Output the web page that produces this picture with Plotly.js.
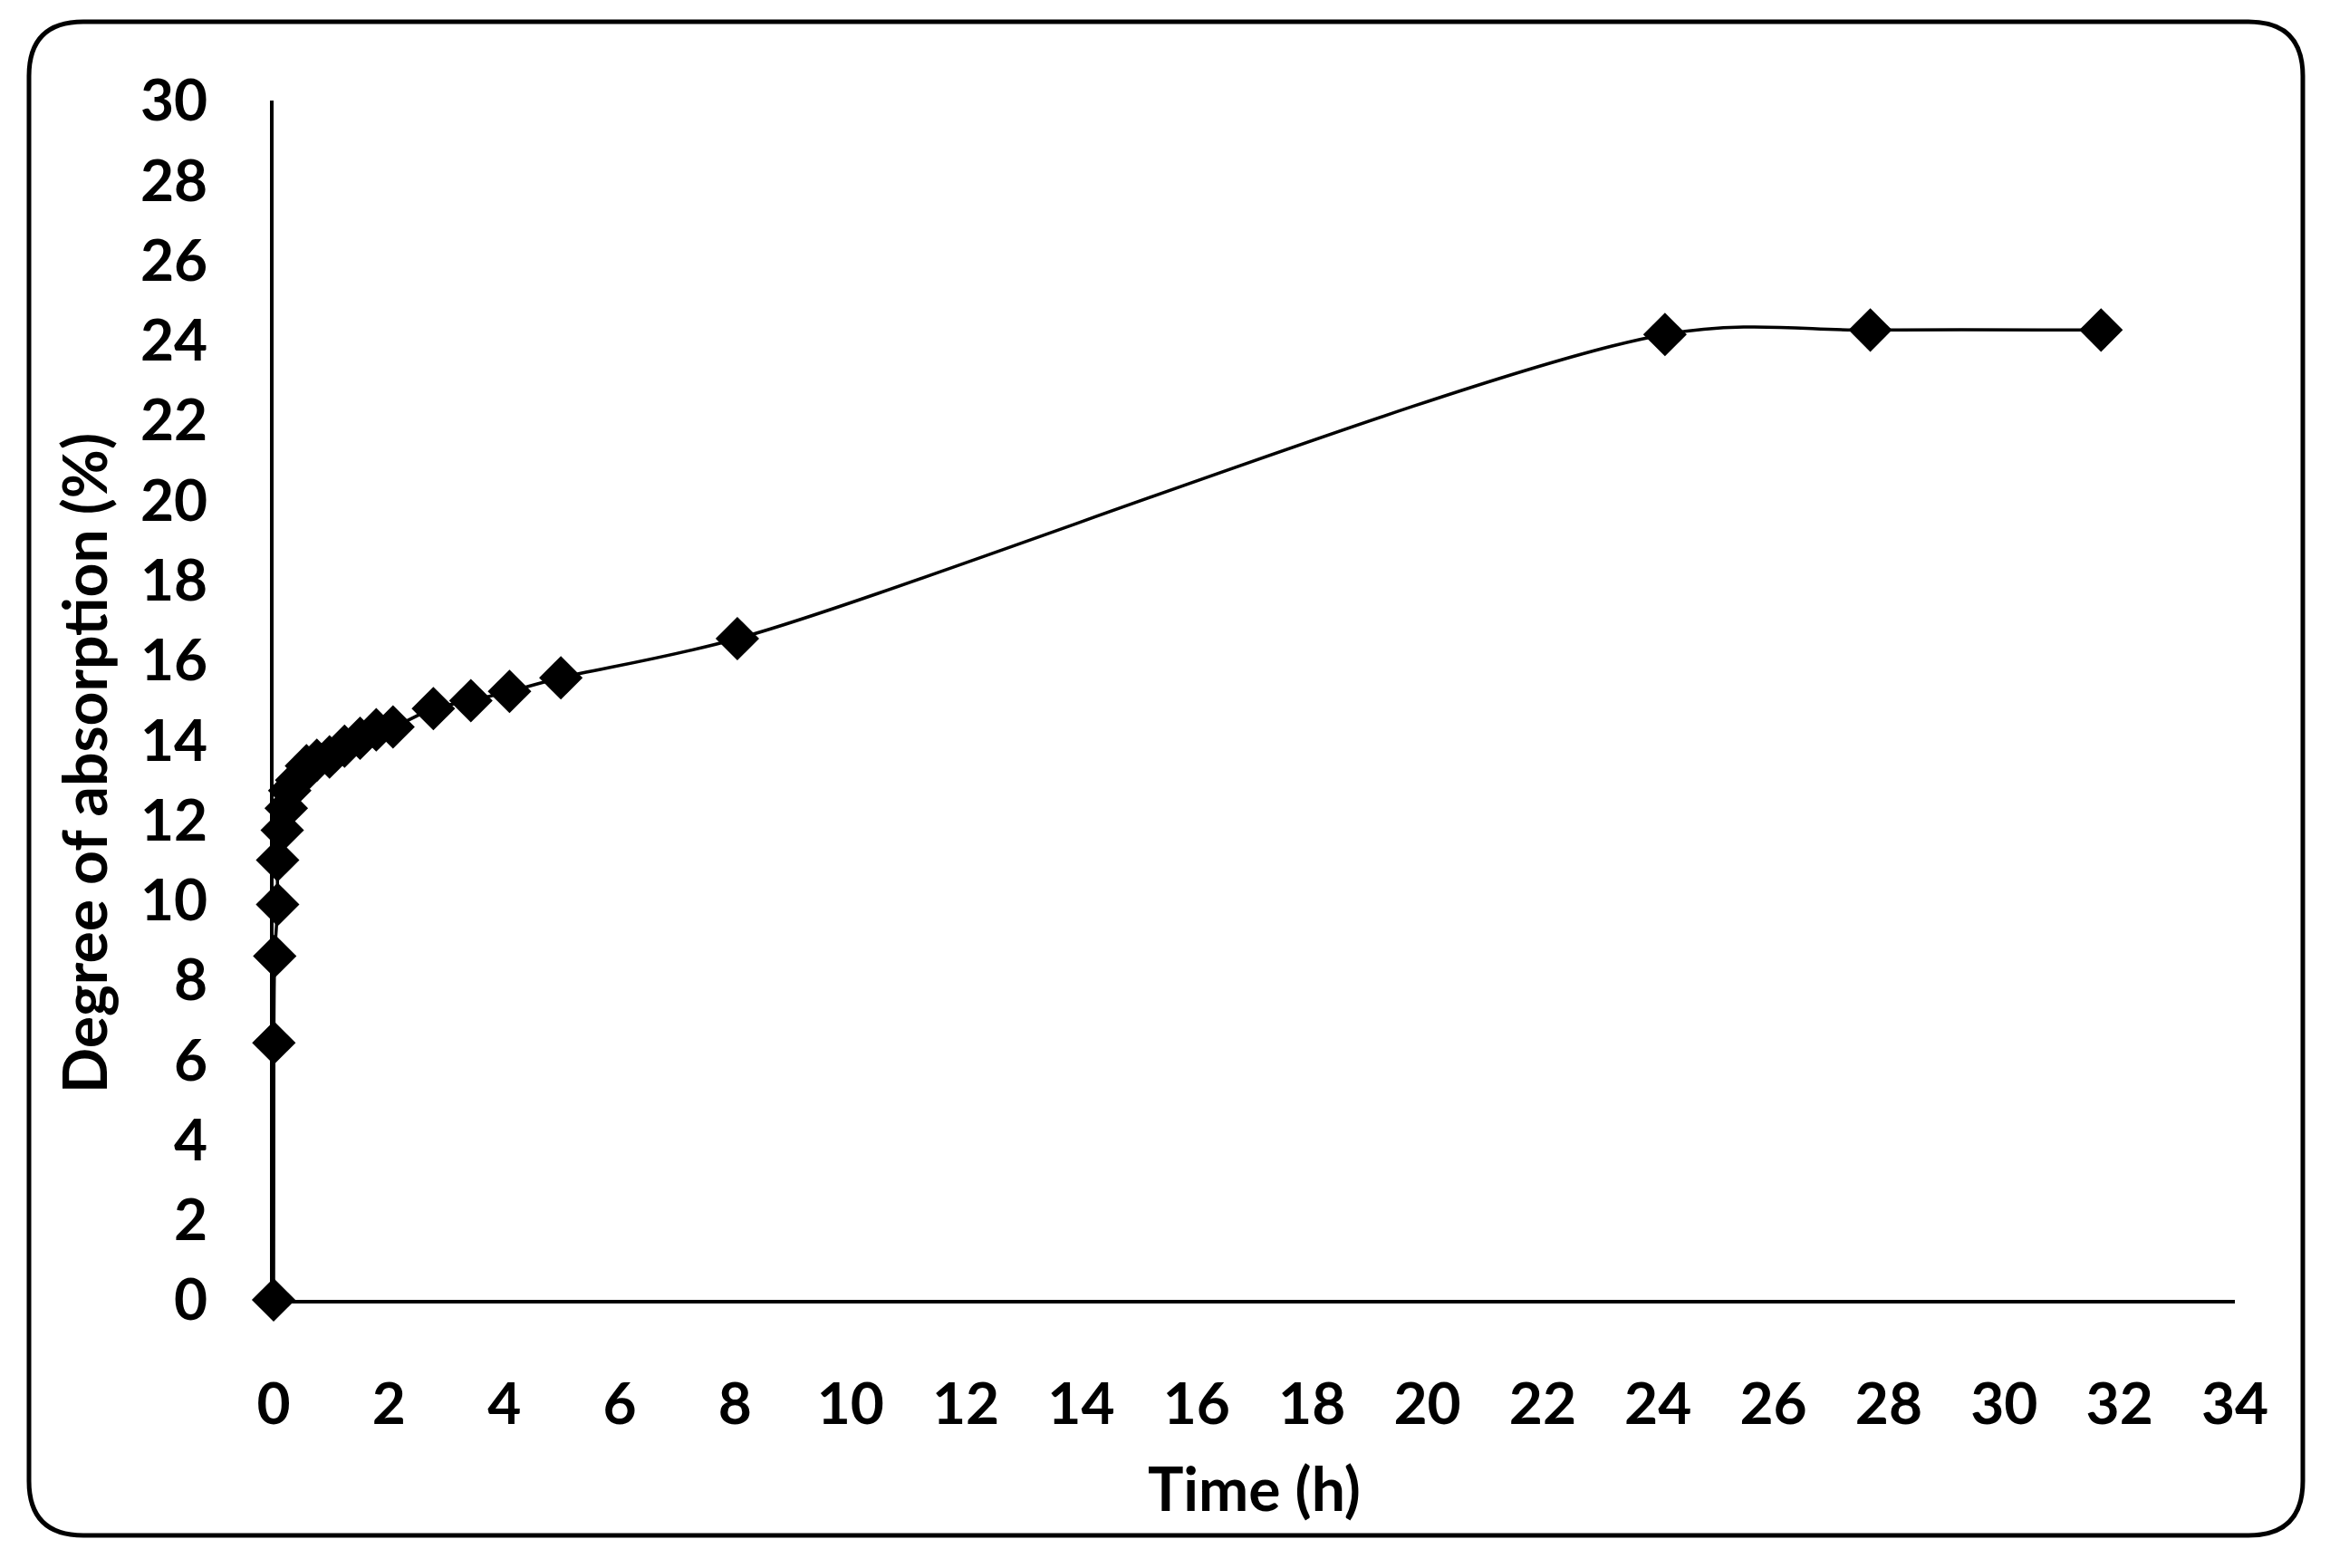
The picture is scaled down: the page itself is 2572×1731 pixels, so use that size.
<!DOCTYPE html>
<html>
<head>
<meta charset="utf-8">
<script src="https://cdn.plot.ly/plotly-3.0.1.min.js"></script>
<style>html,body{margin:0;padding:0;background:#fff;}#chart{width:2572px;height:1731px;}</style>
</head>
<body>
<div id="chart"></div>
<script>
// Data
const timeHours = [0, 0.005, 0.02, 0.07, 0.07, 0.15, 0.22, 0.28, 0.4, 0.57, 0.75, 0.97, 1.23, 1.5, 1.78, 2.07, 2.77, 3.42, 4.09, 4.98, 8.04, 24.12, 27.68, 31.68];
const absorption = [0, 6.43, 8.6, 9.89, 11.0, 11.75, 12.3, 12.74, 13.0, 13.36, 13.5, 13.58, 13.85, 14.05, 14.26, 14.33, 14.79, 14.99, 15.22, 15.56, 16.54, 24.15, 24.26, 24.26];
const xTicks = [0, 2, 4, 6, 8, 10, 12, 14, 16, 18, 20, 22, 24, 26, 28, 30, 32, 34];
const yTicks = [0, 2, 4, 6, 8, 10, 12, 14, 16, 18, 20, 22, 24, 26, 28, 30];
const xTitle = "Time (h)";
const yTitle = "Degree of absorption (%)";

const Wd = 2572, Ht = 1731;
const mL = 302, mR = 105, mT = 111, mB = 296;
const PW = Wd - mL - mR, PH = Ht - mT - mB;
const px = v => (v - mL) / PW;
const py = v => 1 - (v - mT) / PH;

// rounded border
const bl = 32, bt = 24, br = 2542, bb = 1695, rad = 60;
const border = [
  'M', px(bl + rad), py(bt),
  'L', px(br - rad), py(bt),
  'Q', px(br), py(bt), px(br), py(bt + rad),
  'L', px(br), py(bb - rad),
  'Q', px(br), py(bb), px(br - rad), py(bb),
  'L', px(bl + rad), py(bb),
  'Q', px(bl), py(bb), px(bl), py(bb - rad),
  'L', px(bl), py(bt + rad),
  'Q', px(bl), py(bt), px(bl + rad), py(bt), 'Z'
].map(t => typeof t === 'number' ? t.toFixed(5) : t).join(' ');

const tickFont = {family: 'Lato, "Open Sans", sans-serif', size: 64, color: '#000', weight: 'bold'};
const titleFont = {family: 'Lato, "Open Sans", sans-serif', size: 66, color: '#000', weight: 'bold'};

const trace = {
  x: timeHours,
  y: absorption,
  type: 'scatter',
  mode: 'lines+markers',
  line: {shape: 'spline', smoothing: 0.9, color: '#000', width: 3.5},
  marker: {symbol: 'diamond', size: 37, color: '#000'},
  cliponaxis: false,
  hoverinfo: 'x+y'
};

const layout = {
  width: Wd, height: Ht,
  margin: {l: mL, r: mR, t: mT, b: mB, pad: 0},
  paper_bgcolor: '#fff', plot_bgcolor: '#fff',
  showlegend: false,
  font: tickFont,
  xaxis: {
    range: [0, 34], tickvals: xTicks, ticktext: xTicks.map(String),
    showgrid: false, zeroline: false, showline: true, linecolor: '#000', linewidth: 4,
    ticks: '', ticklabelstandoff: 56, tickfont: tickFont, fixedrange: true
  },
  yaxis: {
    range: [0, 30], tickvals: yTicks, ticktext: yTicks.map(String),
    showgrid: false, zeroline: false, showline: true, linecolor: '#000', linewidth: 4,
    ticks: '', ticklabelstandoff: 56, tickfont: tickFont, fixedrange: true
  },
  shapes: [{type: 'path', xref: 'paper', yref: 'paper', path: border, line: {color: '#000', width: 5}, fillcolor: 'rgba(0,0,0,0)', layer: 'below'}],
  annotations: [
    {text: xTitle, xref: 'paper', yref: 'paper', x: px(1384), y: py(1642), xanchor: 'center', yanchor: 'middle', showarrow: false, font: titleFont},
    {text: yTitle, xref: 'paper', yref: 'paper', x: px(93), y: py(843), xanchor: 'center', yanchor: 'middle', textangle: -90, showarrow: false, font: titleFont}
  ]
};

Plotly.newPlot('chart', [trace], layout, {displayModeBar: false, staticPlot: true});
</script>
</body>
</html>
